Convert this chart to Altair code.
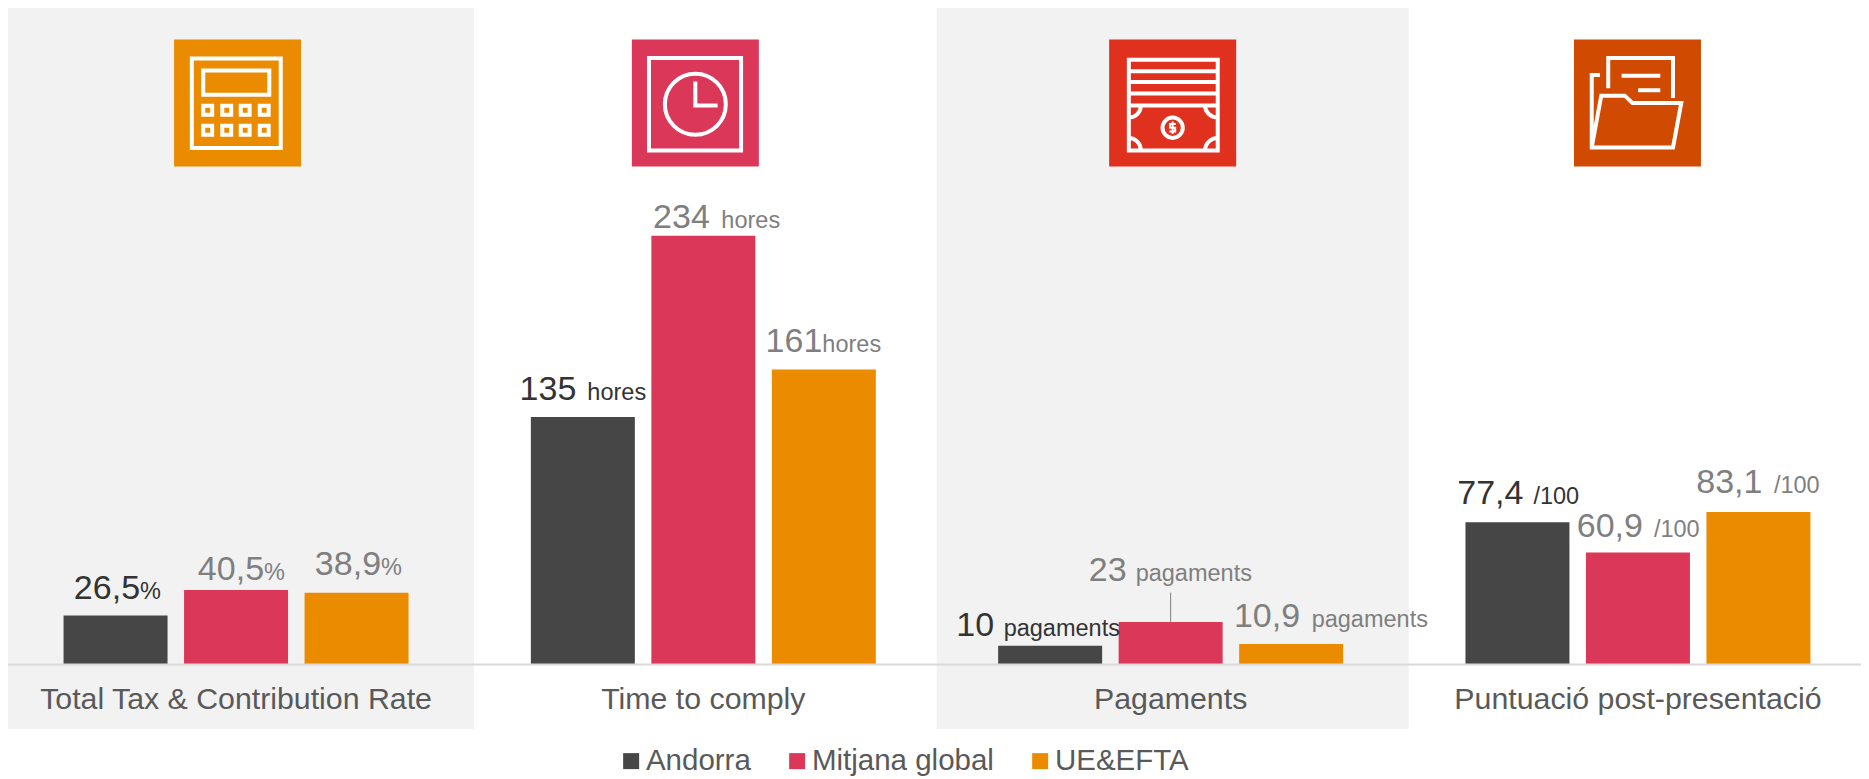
import altair as alt
import pandas as pd

# ---- data ----
categories = ["Total Tax & Contribution Rate", "Time to comply", "Pagaments", "Puntuació post-presentació"]
series = ["Andorra", "Mitjana global", "UE&EFTA"]
total_tax = [26.5, 40.5, 38.9]
time_to_comply = [135, 234, 161]
pagaments = [10, 23, 10.9]
puntuacio = [77.4, 60.9, 83.1]
all_values = [total_tax, time_to_comply, pagaments, puntuacio]
number_labels = [["26,5", "40,5", "38,9"], ["135", "234", "161"], ["10", "23", "10,9"], ["77,4", "60,9", "83,1"]]
unit_labels = ["%", "hores", "pagaments", "/100"]
leader_top = 39
shaded_panels = [categories[0], categories[2]]

# ---- styling ----
colors = ["#464646", "#DB3759", "#EB8C00"]
icon_colors = ["#EB8C00", "#DB3759", "#E0301E", "#D04A02"]
label_colors = ["#333333", "#7F7F7F", "#7F7F7F"]
FONT = "Liberation Sans"
# (number right-edge dx, unit left-edge dx, dy) relative to top-centre of each bar
label_offsets = [
    [(24.5, 24.5, -17), (28, 28, -10), (24.5, 24.5, -18)],
    [(-6.5, 4.5, -17), (6.5, 18, -8), (-1.5, -1.5, -17)],
    [(-56, -46.5, -10), (-44, -35, -41), (9, 20.5, -17)],
    [(6, 16, -18), (5, 16, -16), (4, 15.5, -19)],
]
icon_dx = [1.5, -8, 2, -0.5]
ICON_VALUE = 306.6
ICON_SIZE = 127 ** 2

calc = "M-.72 -.70 L.68 -.70 L.68 .71 L-.72 .71 Z M-.54 -.51 L.50 -.51 L.50 -.13 L-.54 -.13 Z"
for cy in (.115, .43):
    for cx in (-.47, -.17, .12, .42):
        calc += f" M{cx-.07:.2f} {cy-.07:.3f} L{cx+.07:.2f} {cy-.07:.3f} L{cx+.07:.2f} {cy+.07:.3f} L{cx-.07:.2f} {cy+.07:.3f} Z"
clock = ("M-.73 -.71 L.72 -.71 L.72 .75 L-.73 .75 Z "
         "M-.48 .02 A.48 .48 0 1 0 .48 .02 A.48 .48 0 1 0 -.48 .02 Z "
         "M0 -.34 L0 .04 L.35 .04")
money = ("M-.69 -.68 L.71 -.68 L.71 .75 L-.69 .75 Z "
         "M-.69 -.5 L.71 -.5 M-.69 -.33 L.71 -.33 M-.69 -.15 L.71 -.15 M-.69 .04 L.71 .04 "
         "M-.5 .04 A.19 .19 0 0 1 -.69 .23 M.51 .04 A.2 .19 0 0 0 .71 .23 "
         "M-.69 .55 A.19 .2 0 0 1 -.5 .75 M.71 .55 A.2 .2 0 0 0 .51 .75 "
         "M-.16 .39 A.16 .16 0 1 0 .16 .39 A.16 .16 0 1 0 -.16 .39 Z")
folder = ("M-.46 -.23 L-.46 -.71 L.56 -.71 L.56 -.08 "
          "M-.25 -.43 L.36 -.43 M.01 -.2 L.36 -.2 "
          "M-.59 -.44 L-.72 -.44 L-.72 .70 L.56 .70 L.69 0 L-.08 0 L-.2 -.115 L-.57 -.115 L-.72 .70")
icons = [calc, clock, money, folder]
dollar = "M.05 .33 L-.04 .33 L-.04 .39 L.04 .39 L.04 .45 L-.05 .45 M0 .29 L0 .49"

# ---- scales ----
x = alt.X("cat:N", scale=alt.Scale(domain=categories, paddingInner=0, paddingOuter=0),
          axis=alt.Axis(title=None, ticks=False, labelAngle=0, labelFontSize=30.3, labelFont=FONT,
                        labelColor="#595959", domainColor="#D9D9D9", domainWidth=2, labelPadding=20.5,
                        labelLimit=600, labelOverlap=False, zindex=1))
xo = alt.XOffset("ser:N", scale=alt.Scale(domain=series, paddingInner=.137, paddingOuter=.5075))
y_scale = alt.Scale(domain=[0, 358.5], nice=False)
y = alt.Y("v:Q", scale=y_scale, axis=None, stack=None)

rows = []
for c, vals in zip(categories, all_values):
    for s, v in zip(series, vals):
        rows.append({"cat": c, "ser": s, "v": v})
df = pd.DataFrame(rows)

layers = []
# shaded panels
panels = pd.DataFrame({"cat": shaded_panels, "top": [358.5] * 2, "bottom": [-35.5] * 2})
layers.append(alt.Chart(panels).mark_bar(width=472, xOffset=2, color="#F2F2F2").encode(
    x=x, y=alt.Y("top:Q", scale=y_scale, axis=None), y2="bottom:Q"))
# bars
layers.append(alt.Chart(df).mark_bar().encode(
    x=x, xOffset=xo, y=y,
    color=alt.Color("ser:N", scale=alt.Scale(domain=series, range=colors),
                    legend=alt.Legend(title=None, orient="none", direction="horizontal", legendX=614, legendY=738,
                                      symbolType="square", symbolSize=256, symbolStrokeWidth=0, symbolOpacity=1,
                                      labelFontSize=29.5, labelFont=FONT, labelColor="#595959", labelOffset=0,
                                      columnPadding=31, columns=3, labelLimit=400))))
# leader line
leader = pd.DataFrame({"cat": [categories[2]], "ser": [series[1]], "v": [pagaments[1]], "v2": [leader_top]})
layers.append(alt.Chart(leader).mark_rule(color="#7F7F7F", strokeWidth=1).encode(x=x, xOffset=xo, y=y, y2="v2:Q"))
# value labels
for i, c in enumerate(categories):
    for j, s in enumerate(series):
        one = pd.DataFrame({"cat": [c], "ser": [s], "v": [all_values[i][j]],
                            "n": [number_labels[i][j]], "u": [unit_labels[i]]})
        ndx, udx, dy = label_offsets[i][j]
        layers.append(alt.Chart(one).mark_text(align="right", baseline="alphabetic", dx=ndx, dy=dy, fontSize=34,
                                               font=FONT, color=label_colors[j]).encode(x=x, xOffset=xo, y=y, text="n:N"))
        layers.append(alt.Chart(one).mark_text(align="left", baseline="alphabetic", dx=udx, dy=dy, fontSize=23.5,
                                               font=FONT, color=label_colors[j]).encode(x=x, xOffset=xo, y=y, text="u:N"))
# icons
for i, c in enumerate(categories):
    one = pd.DataFrame({"cat": [c], "v": [ICON_VALUE]})
    layers.append(alt.Chart(one).mark_point(shape="square", size=ICON_SIZE, filled=True, opacity=1,
                                            color=icon_colors[i], xOffset=icon_dx[i]).encode(x=x, y=y))
    layers.append(alt.Chart(one).mark_point(shape=icons[i], size=ICON_SIZE, filled=False, opacity=1, stroke="white",
                                            strokeWidth=4, xOffset=icon_dx[i]).encode(x=x, y=y))
    if i == 2:
        layers.append(alt.Chart(one).mark_point(shape=dollar, size=ICON_SIZE, filled=False, opacity=1, stroke="white",
                                                strokeWidth=2, xOffset=icon_dx[i]).encode(x=x, y=y))

chart = alt.layer(*layers).properties(
    width=1869.2, height=656, autosize=alt.AutoSizeParams(type="none"),
    padding={"left": -5.6, "top": 0, "right": -10.6, "bottom": 115},
).configure_view(stroke=None)

chart.save("out.html", embed_options={"renderer": "svg", "actions": False})
